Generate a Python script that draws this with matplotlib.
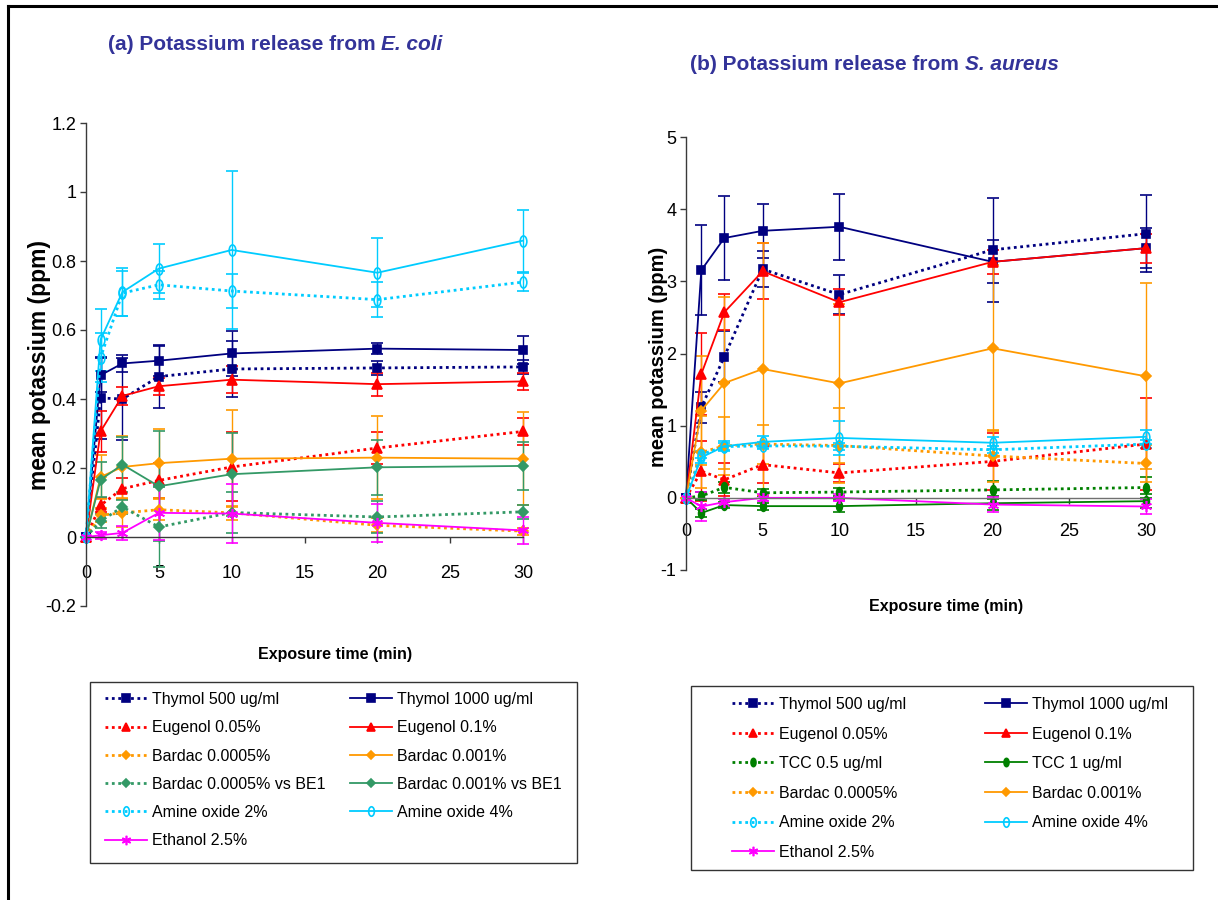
import matplotlib
matplotlib.use('Agg')
import matplotlib.pyplot as plt
from matplotlib.lines import Line2D
from matplotlib.patches import Rectangle
from matplotlib.path import Path
from matplotlib.transforms import Affine2D

plt.rcParams['font.family'] = ['Liberation Sans', 'DejaVu Sans']

# ---------------- data ----------------
t = [0, 1, 2.5, 5, 10, 20, 30]

# Panel (a): E. coli
a_thy500 = [0, 0.403, 0.400, 0.465, 0.487, 0.490, 0.493]
a_thy500_err = [0, 0.12, 0.12, 0.09, 0.08, 0.02, 0.02]
a_thy1000 = [0, 0.469, 0.503, 0.511, 0.532, 0.546, 0.542]
a_thy1000_err = [0, 0.05, 0.025, 0.045, 0.065, 0.017, 0.04]
a_eug005 = [0, 0.092, 0.140, 0.164, 0.203, 0.258, 0.306]
a_eug005_err = [0, 0.02, 0.03, 0.05, 0.10, 0.045, 0.04]
a_eug01 = [0, 0.306, 0.409, 0.437, 0.456, 0.443, 0.451]
a_eug01_err = [0, 0.06, 0.025, 0.025, 0.04, 0.033, 0.025]
a_bar0005 = [0, 0.063, 0.070, 0.079, 0.070, 0.034, 0.017]
a_bar0005_err = [0, 0.02, 0.04, 0.03, 0.02, 0.02, 0.01]
a_bar001 = [0, 0.174, 0.203, 0.214, 0.227, 0.230, 0.227]
a_bar001_err = [0, 0.065, 0.09, 0.10, 0.14, 0.12, 0.135]
a_bbe0005 = [0, 0.046, 0.087, 0.029, 0.071, 0.058, 0.073]
a_bbe0005_err = [0, 0.02, 0.02, 0.116, 0.06, 0.045, 0.02]
a_bbe001 = [0, 0.166, 0.210, 0.147, 0.182, 0.202, 0.206]
a_bbe001_err = [0, 0.05, 0.08, 0.16, 0.12, 0.08, 0.07]
a_am2 = [0, 0.520, 0.707, 0.731, 0.713, 0.688, 0.739]
a_am2_err = [0, 0.07, 0.065, 0.04, 0.05, 0.05, 0.025]
a_am4 = [0, 0.572, 0.710, 0.778, 0.832, 0.766, 0.859]
a_am4_err = [0, 0.09, 0.07, 0.07, 0.23, 0.10, 0.09]
a_eth = [0, 0.005, 0.012, 0.070, 0.068, 0.041, 0.019]
a_eth_err = [0, 0.01, 0.02, 0.08, 0.085, 0.055, 0.04]

# Panel (b): S. aureus
b_thy500 = [0, 1.253, 1.956, 3.168, 2.817, 3.437, 3.66]
b_thy500_err = [0, 0.22, 0.35, 0.25, 0.27, 0.72, 0.53]
b_thy1000 = [0, 3.155, 3.60, 3.70, 3.756, 3.27, 3.46]
b_thy1000_err = [0, 0.62, 0.58, 0.37, 0.46, 0.30, 0.28]
b_eug005 = [0, 0.37, 0.25, 0.46, 0.345, 0.505, 0.745]
b_eug005_err = [0, 0.42, 0.23, 0.26, 0.13, 0.40, 0.64]
b_eug01 = [0, 1.716, 2.572, 3.14, 2.71, 3.27, 3.46]
b_eug01_err = [0, 0.57, 0.25, 0.39, 0.18, 0.17, 0.20]
b_tcc05 = [0, 0.025, 0.145, 0.07, 0.08, 0.11, 0.143]
b_tcc05_err = [0, 0.05, 0.08, 0.05, 0.05, 0.12, 0.14]
b_tcc1 = [0, -0.21, -0.10, -0.115, -0.115, -0.075, -0.046]
b_tcc1_err = [0, 0.06, 0.04, 0.05, 0.08, 0.10, 0.10]
b_bar0005 = [0, 0.63, 0.72, 0.745, 0.725, 0.58, 0.476]
b_bar0005_err = [0, 0.50, 0.40, 0.27, 0.52, 0.36, 0.25]
b_bar001 = [0, 1.21, 1.59, 1.785, 1.586, 2.072, 1.684]
b_bar001_err = [0, 0.76, 1.19, 1.74, 1.10, 1.15, 1.29]
b_am2 = [0, 0.60, 0.71, 0.72, 0.715, 0.666, 0.745]
b_am2_err = [0, 0.05, 0.05, 0.05, 0.05, 0.05, 0.05]
b_am4 = [0, 0.56, 0.715, 0.775, 0.83, 0.763, 0.846]
b_am4_err = [0, 0.08, 0.07, 0.08, 0.23, 0.08, 0.10]
b_eth = [0, -0.12, -0.06, 0, 0, -0.093, -0.12]
b_eth_err = [0, 0.20, 0.05, 0.05, 0.05, 0.10, 0.10]

a_yticks = [-0.2, 0, 0.2, 0.4, 0.6, 0.8, 1, 1.2]
b_yticks = [-1, 0, 1, 2, 3, 4, 5]
xticks = [0, 5, 10, 15, 20, 25, 30]

# ---------------- styles ----------------
NAVY = '#000080'
RED = '#FF0000'
ORANGE = '#FF9900'
SEAGREEN = '#339966'
GREEN = '#008000'
CYAN = '#00CCFF'
MAGENTA = '#FF00FF'
AXC = '#3a3a3a'

ellipse = Path.unit_circle().transformed(Affine2D().scale(0.6, 1.0))
DOT = (0, (1, 1.3))


def st(color, marker, dotted, ms, mfc=None):
    return dict(color=color, marker=marker, dotted=dotted, ms=ms,
                mfc=color if mfc is None else mfc)


sty = {
    'thy500': st(NAVY, 's', True, 6),
    'thy1000': st(NAVY, 's', False, 6),
    'eug005': st(RED, '^', True, 7),
    'eug01': st(RED, '^', False, 7),
    'bar0005': st(ORANGE, 'D', True, 5),
    'bar001': st(ORANGE, 'D', False, 5),
    'bbe0005': st(SEAGREEN, 'D', True, 5),
    'bbe001': st(SEAGREEN, 'D', False, 5),
    'tcc05': st(GREEN, ellipse, True, 7),
    'tcc1': st(GREEN, ellipse, False, 7),
    'am2': st(CYAN, ellipse, True, 8, 'none'),
    'am4': st(CYAN, ellipse, False, 8, 'none'),
    'eth': st(MAGENTA, (6, 2, 0), False, 8),
}

fig = plt.figure(figsize=(12.18, 9), dpi=100)
W, H = 1218.0, 900.0


def fx(px):
    return px / W


def fy(py):
    return 1 - py / H


def plot_series(ax, key, y, e):
    s = sty[key]
    ls = DOT if s['dotted'] else '-'
    lw = 2.0 if s['dotted'] else 1.3
    cont = ax.errorbar(t, y, yerr=e, color=s['color'], ls=ls, lw=lw,
                       marker=s['marker'], ms=s['ms'], mfc=s['mfc'],
                       mec=s['color'], mew=1.2, ecolor=s['color'],
                       elinewidth=1.0, capsize=4, capthick=1.0)
    for art in cont.get_children():
        art.set_clip_on(False)


def style_axes(ax, ylim, yticks, xpad):
    ax.set_xlim(0, 30)
    ax.set_ylim(*ylim)
    ax.set_xticks(xticks)
    ax.set_yticks(yticks)
    ax.set_yticklabels(['%g' % v for v in yticks])
    ax.set_xticklabels(['%g' % v for v in xticks])
    ax.spines['top'].set_visible(False)
    ax.spines['right'].set_visible(False)
    ax.spines['bottom'].set_position(('data', 0))
    for sp in ('left', 'bottom'):
        ax.spines[sp].set_color(AXC)
        ax.spines[sp].set_linewidth(1.0)
    ax.tick_params(axis='both', direction='out', length=4, width=1.0,
                   color=AXC, labelsize=13)
    ax.tick_params(axis='x', pad=xpad)
    ax.tick_params(axis='y', pad=3)
    ax.patch.set_visible(False)


# ---------- panel (a) ----------
axa = fig.add_axes([fx(86), fy(606), fx(523) - fx(86), fy(123) - fy(606)])
a_series = [
    ('thy500', a_thy500, a_thy500_err),
    ('thy1000', a_thy1000, a_thy1000_err),
    ('eug005', a_eug005, a_eug005_err),
    ('eug01', a_eug01, a_eug01_err),
    ('bar0005', a_bar0005, a_bar0005_err),
    ('bar001', a_bar001, a_bar001_err),
    ('bbe0005', a_bbe0005, a_bbe0005_err),
    ('bbe001', a_bbe001, a_bbe001_err),
    ('am2', a_am2, a_am2_err),
    ('am4', a_am4, a_am4_err),
    ('eth', a_eth, a_eth_err),
]
for k, y, e in a_series:
    plot_series(axa, k, y, e)
style_axes(axa, (-0.2, 1.2), a_yticks, 16)

# ---------- panel (b) ----------
axb = fig.add_axes([fx(686), fy(570), fx(1146) - fx(686), fy(137) - fy(570)])
b_series = [
    ('thy500', b_thy500, b_thy500_err),
    ('thy1000', b_thy1000, b_thy1000_err),
    ('eug005', b_eug005, b_eug005_err),
    ('eug01', b_eug01, b_eug01_err),
    ('tcc05', b_tcc05, b_tcc05_err),
    ('tcc1', b_tcc1, b_tcc1_err),
    ('bar0005', b_bar0005, b_bar0005_err),
    ('bar001', b_bar001, b_bar001_err),
    ('am2', b_am2, b_am2_err),
    ('am4', b_am4, b_am4_err),
    ('eth', b_eth, b_eth_err),
]
for k, y, e in b_series:
    plot_series(axb, k, y, e)
style_axes(axb, (-1, 5), b_yticks, 14)
axb.spines['bottom'].set_color('#707070')

# ---------- labels ----------
TITLEC = '#333399'
fig.text(fx(40), fy(365), 'mean potassium (ppm)', rotation=90, ha='center',
         va='center', fontsize=16.5, fontweight='bold')
fig.text(fx(659), fy(357), 'mean potassium (ppm)', rotation=90, ha='center',
         va='center', fontsize=14.5, fontweight='bold')
fig.text(fx(335), fy(655), 'Exposure time (min)', ha='center', va='center',
         fontsize=11.5, fontweight='bold')
fig.text(fx(946), fy(606), 'Exposure time (min)', ha='center', va='center',
         fontsize=11.5, fontweight='bold')

ta = fig.text(fx(108), fy(45), '(a) Potassium release from ', ha='left',
              va='center', fontsize=15, fontweight='bold', color=TITLEC)
tb = fig.text(fx(690), fy(65), '(b) Potassium release from ', ha='left',
              va='center', fontsize=15, fontweight='bold', color=TITLEC)
axa.annotate('E. coli', xy=(1, 0), xycoords=ta, ha='left', va='bottom',
             fontsize=15, fontweight='bold', style='italic', color=TITLEC,
             annotation_clip=False)
axb.annotate('S. aureus', xy=(1, 0), xycoords=tb, ha='left', va='bottom',
             fontsize=15, fontweight='bold', style='italic', color=TITLEC,
             annotation_clip=False)

# ---------- legends ----------
labels = {
    'thy500': 'Thymol 500 ug/ml', 'thy1000': 'Thymol 1000 ug/ml',
    'eug005': 'Eugenol 0.05%', 'eug01': 'Eugenol 0.1%',
    'bar0005': 'Bardac 0.0005%', 'bar001': 'Bardac 0.001%',
    'bbe0005': 'Bardac 0.0005% vs BE1', 'bbe001': 'Bardac 0.001% vs BE1',
    'tcc05': 'TCC 0.5 ug/ml', 'tcc1': 'TCC 1 ug/ml',
    'am2': 'Amine oxide 2%', 'am4': 'Amine oxide 4%',
    'eth': 'Ethanol 2.5%',
}


def handle(key):
    s = sty[key]
    ls = DOT if s['dotted'] else '-'
    lw = 2.0 if s['dotted'] else 1.3
    return Line2D([], [], color=s['color'], ls=ls, lw=lw, marker=s['marker'],
                  ms=s['ms'] * 0.85, mfc=s['mfc'], mec=s['color'], mew=1.2)


def make_legend(keys, x_px, top_px, spacing):
    hs = [handle(k) for k in keys]
    ls = [labels[k] for k in keys]
    return fig.legend(hs, ls, loc='upper left',
                      bbox_to_anchor=(fx(x_px), fy(top_px)),
                      bbox_transform=fig.transFigure, frameon=False,
                      borderpad=0, borderaxespad=0, fontsize=11.5,
                      labelspacing=spacing, handlelength=2.6,
                      handletextpad=0.35, numpoints=1)


a_col1 = ['thy500', 'eug005', 'bar0005', 'bbe0005', 'am2', 'eth']
a_col2 = ['thy1000', 'eug01', 'bar001', 'bbe001', 'am4']
b_col1 = ['thy500', 'eug005', 'tcc05', 'bar0005', 'am2', 'eth']
b_col2 = ['thy1000', 'eug01', 'tcc1', 'bar001', 'am4']

make_legend(a_col1, 105, 692, 0.83)
make_legend(a_col2, 350, 692, 0.83)
make_legend(b_col1, 732, 697, 0.91)
make_legend(b_col2, 985, 697, 0.91)

fig.add_artist(Rectangle((fx(90), fy(863)), fx(577) - fx(90), fy(682) - fy(863),
                         transform=fig.transFigure, fill=False,
                         edgecolor='#333333', lw=1.0))
fig.add_artist(Rectangle((fx(691), fy(870)), fx(1193) - fx(691), fy(686) - fy(870),
                         transform=fig.transFigure, fill=False,
                         edgecolor='#333333', lw=1.0))

# outer frame (left and top edges)
fig.add_artist(Line2D([fx(8), fx(8)], [0, fy(6)], transform=fig.transFigure,
                      color='black', lw=2.2))
fig.add_artist(Line2D([fx(8), 1], [fy(6), fy(6)], transform=fig.transFigure,
                      color='black', lw=2.2))

fig.savefig('out.png', dpi=100)
